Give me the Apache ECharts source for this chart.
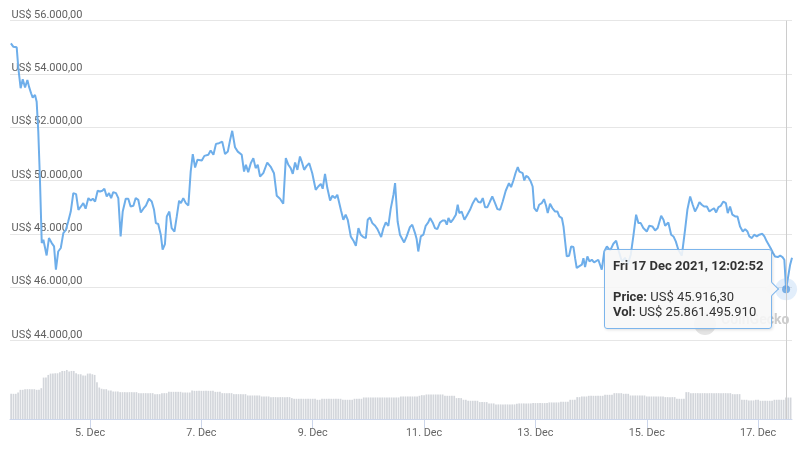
<!DOCTYPE html>
<html>
<head>
<meta charset="utf-8">
<script src="https://cdn.jsdelivr.net/npm/echarts@6/dist/echarts.min.js"></script>
<style>
html,body{margin:0;padding:0;background:#fff;}
#chart{width:800px;height:454px;}
</style>
</head>
<body>
<div id="chart"></div>
<script>
// hours since 3 Dec 2021 00:00 (UTC)
const hours = [13.9,14.9,16.4,17.1,18.1,19.0,20.0,21.0,21.7,22.6,
23.3,24.3,25.0,25.7,26.4,27.2,27.9,28.6,29.3,30.3,
31.5,32.5,33.3,34.3,35.4,36.5,37.6,38.6,39.7,40.8,
42.0,43.0,44.1,45.1,46.1,47.3,48.3,49.2,50.2,51.3,
52.3,53.3,54.2,55.2,56.2,57.1,58.0,59.2,60.2,61.2,
62.1,63.4,64.5,65.5,66.7,67.7,68.8,69.9,71.0,72.1,
73.4,74.6,75.6,76.4,77.4,78.5,79.3,80.3,81.1,82.2,
83.2,84.4,85.4,86.4,87.2,88.2,89.3,90.4,91.4,92.3,
93.3,94.3,96.2,97.3,99.0,100.0,101.2,102.3,103.6,105.0,
106.2,107.4,108.4,109.3,110.5,111.7,113.4,114.4,115.2,116.2,
117.3,118.4,119.4,120.3,121.3,122.7,124.4,126.0,127.3,128.5,
129.9,131.3,132.4,133.5,134.5,135.4,136.4,137.4,138.5,139.5,
140.3,141.4,142.5,143.8,145.3,146.4,147.5,148.3,149.3,150.3,
151.5,152.5,153.6,154.6,155.3,156.2,157.2,158.2,159.1,160.4,
161.5,162.6,163.7,164.7,165.8,166.9,167.7,168.7,169.7,170.9,
171.9,172.6,173.5,174.5,175.5,176.6,177.6,178.8,179.5,180.6,
181.6,183.4,184.5,185.9,186.9,188.1,188.8,189.5,190.6,191.7,
192.7,193.8,194.6,195.7,196.7,197.7,198.9,200.0,201.0,201.8,
202.5,203.5,204.6,205.7,206.5,207.2,208.2,209.4,210.4,211.8,
213.0,214.3,215.4,216.4,217.3,218.3,219.3,220.4,221.4,222.6,
223.6,224.8,225.9,227.2,228.6,229.5,230.5,231.5,232.4,233.1,
233.8,234.5,235.2,236.0,236.9,238.0,238.8,239.5,240.6,241.6,
242.7,243.7,244.6,245.3,246.3,247.3,248.5,249.5,250.3,251.4,
252.1,252.8,253.5,254.5,255.4,256.4,257.1,257.8,258.8,260.0,
260.7,261.4,262.4,263.3,264.3,265.3,267.1,268.6,269.7,270.8,
272.2,273.6,274.8,276.0,277.3,278.6,279.8,281.1,282.2,283.4,
284.4,285.4,286.5,288.0,289.1,290.4,291.6,292.7,294.2,295.2,
295.9,297.3,298.5,299.5,300.5,301.6,303.1,304.5,305.5,306.7,
307.8,308.8,309.8,310.7,311.7,312.7,313.9,315.0,316.0,317.0,
317.9,318.9,319.9,321.0,322.1,322.9,323.9,324.9,326.1,327.1,
328.2,329.4,330.4,331.4,332.2,333.3,334.3,335.4,336.5,337.8,
338.7,339.7,340.8,341.6,342.3,343.3,344.5,345.5,346.5,347.3,
348.0478,349.8,350.6];

// price in US$
const prices = [55150,55025,55000,54215,53465,53800,53490,53775,53525,53275,
53110,53215,52960,51840,50100,47650,47775,47710,47185,47840,
47650,47525,46650,47335,47465,48025,48150,48460,48835,49525,
49490,48900,49025,49150,48940,49340,49250,49315,49210,49615,
49585,49615,49690,49400,49525,49340,49565,49525,49340,47900,
48835,49315,49315,49025,49050,49340,49275,48800,48940,49060,
49315,49210,48900,48400,48365,47965,47400,47615,48650,48835,
48215,48085,48650,49240,49150,49340,49150,49060,50335,50990,
50485,50775,50750,50925,50965,51125,50965,51375,51400,51460,
50990,51085,51525,51865,51250,51085,50965,50335,50590,50315,
50650,50840,50465,50590,50150,50275,50675,50500,50275,49425,
49315,49125,50840,50590,50465,50250,50675,50400,50900,50650,
50400,50550,50650,50275,49650,49775,49875,49690,50250,49715,
49250,49425,49340,49465,49425,48875,48525,48715,48525,47900,
47750,47550,48215,47965,47875,47840,48525,48610,48400,48300,
48175,48190,47875,48215,48425,48300,48925,49465,49900,48460,
47965,47675,47900,48250,48340,48025,47800,47335,47900,47965,
48300,48425,48590,48425,48215,48175,48425,48500,48500,48340,
48590,48425,48550,48715,49090,48775,48835,48525,48675,48900,
49150,49340,49190,49175,49340,49000,49000,49210,49400,49150,
48925,48900,49210,49615,49900,49750,50000,50300,50500,50335,
50375,50275,50000,50175,50125,49960,49775,48965,48835,49090,
49150,49300,49050,48775,49125,48965,48835,48835,48650,48590,
48275,47710,47150,47175,47525,47500,47085,46715,46775,46840,
47085,46750,47150,46960,47025,46925,47025,46650,47335,47525,
47365,47625,47740,47325,46950,47100,46840,47215,47900,48715,
48400,48400,48215,48085,48300,48275,48125,48215,48675,48525,
48300,48425,47965,47900,47715,47400,47175,48150,48900,49400,
49090,48835,49000,49190,49090,49025,49025,48835,48900,48960,
48800,49000,49050,49210,49150,48775,49025,48715,48650,48650,
48275,48085,48175,48085,47900,47840,47965,47900,47965,48000,
47900,47715,47550,47425,47300,47150,47125,47175,47125,47025,
45916.3,46840,47100];

// hourly 24h volume, in billions of US$, first bar at hour 14
const volStartHour = 14;
const volumes = [30.4,30.4,30.4,32,35.2,35.2,36,36,36,36,
36,35.2,35.2,37.2,50,50,53.2,54.8,54.8,55.2,
55.2,56.4,58,58,59.2,57.2,58,58,55.2,54,
54,52.4,52.4,54.8,54.8,54,53.2,44.4,38,36.5,
36,36,34.4,34.4,33.2,33.2,33.2,32.4,32.4,32.4,
32.4,32.4,32.4,32.4,32.4,31.2,31.2,31.2,31.2,31.2,
31.2,31.2,30,30,30,31.2,31.2,31.2,32.8,32.8,
32.8,32.8,32.8,32.8,32,32,32,32,34.4,34,
34,34,34,34,34,34,34,34,32.8,32.8,
32.8,31.2,31.2,31.2,31.2,31.2,30,30,30,30,
30,30,28.4,28.4,28.4,28.4,28.4,28.4,27.2,27.2,
27.2,27.2,26.4,26.4,26.4,26.4,26.4,26.4,26.4,26.4,
26.4,25.2,24.4,24.4,24.4,24.4,24.4,24.4,24.4,24.4,
24.4,24.4,23.2,23.2,24.4,24.4,24.4,24.4,24.4,24.4,
24.4,24.4,24.4,23.2,23.2,23.2,23.2,23.2,24.4,24.4,
24.4,24.4,26,26,26,26,26,26,26,26,
26,26,26,26,26,26,26,26,27.2,27.2,
27.2,27.2,27.2,27.2,27.2,27.2,28,28.8,28.8,29.6,
29.6,29.6,29.6,29.6,29.6,29.6,29.6,28,28,28,
28,28,25.2,25.2,25.2,23.2,23.2,22,22,22,
22,22,20.4,20.4,20.4,20.4,18.8,18.8,18.8,17.6,
17.6,17.6,17.6,17.6,17.6,17.6,17.6,17.6,18.4,18.8,
18.8,18.8,18.8,18.8,18.8,19.2,19.2,19.2,19.2,19.2,
19.2,19.2,20,20,20,20,20,20.8,20.8,20.8,
20.8,23.2,23.2,23.2,26.4,26.4,27.2,27.2,27.2,28,
28,28,28,28,28,28,29.2,29.2,29.2,29.2,
31.2,31.2,31.2,31.2,30.4,30.4,30.4,28.4,28.4,28.4,
28.4,28.4,28.4,28.4,27.2,27.2,27.2,27.2,27.2,27.2,
27.2,27.2,26.4,26.4,26.4,26.4,26.4,24.4,24.4,24.4,
24.4,32.4,32.4,31.2,31.2,31.2,31.2,31.2,31.2,31.2,
31.2,31.2,31.2,31.2,31.2,31.2,31.2,31.2,31.2,31.2,
31.2,30,30,30,30,23.2,23.2,23.2,22.4,22.4,
22.4,23.2,23.2,22,22,22,22,22,22,23.2,
23.2,23.2,23.2,23.2,25.86149591,25.9,25.9];

const xTickHours = [48,96,144,192,240,288,336];
const xTickLabels = ['5. Dec','7. Dec','9. Dec','11. Dec','13. Dec','15. Dec','17. Dec'];
const priceMin = 44000, priceMax = 56000, priceStep = 2000;
const hourMin = 13.51, hourMax = 350.6;
const tipHour = 348.0478;

const baseUTC = Date.UTC(2021, 11, 3, 0, 0, 0);
const DAYS = ['Sun','Mon','Tue','Wed','Thu','Fri','Sat'];
const MONTHS = ['Jan','Feb','Mar','Apr','May','Jun','Jul','Aug','Sep','Oct','Nov','Dec'];

function groupDots(intStr){ return intStr.replace(/\B(?=(\d{3})+(?!\d))/g, '.'); }
function fmtPrice(v){
  const s = v.toFixed(2).split('.');
  return groupDots(s[0]) + ',' + s[1];
}
function pad(n){ return (n<10?'0':'')+n; }
function fmtTime(h){
  const d = new Date(baseUTC + h*3600000);
  return DAYS[d.getUTCDay()] + ' ' + d.getUTCDate() + ' ' + MONTHS[d.getUTCMonth()] + ' ' + d.getUTCFullYear() +
    ', ' + pad(d.getUTCHours()) + ':' + pad(d.getUTCMinutes()) + ':' + pad(d.getUTCSeconds());
}

const lineData = hours.map((h,i)=>[h, prices[i]]);
const volData = volumes.map((v,i)=>[volStartHour+i, v]);
const tipIndex = hours.indexOf(tipHour);
const tipPoint = [hours[tipIndex], prices[tipIndex]];

const chart = echarts.init(document.getElementById('chart'), null, {renderer:'canvas'});
const FONT = 'Roboto, "Noto Sans", sans-serif';

const axisPointerCfg = {
  show: true, type: 'line', value: tipHour, status: 'show', snap: false,
  triggerTooltip: false, label: {show: false},
  lineStyle: {color: '#cccccc', width: 1, type: 'solid'}
};

const arrowHtml = '<div style="position:absolute;right:-6px;top:50%;margin-top:-5px;width:9px;height:9px;' +
  'background:#f7f7f7;border-right:1px solid #7cb5ec;border-top:1px solid #7cb5ec;transform:rotate(45deg);"></div>';

chart.setOption({
  animation: false,
  backgroundColor: '#ffffff',
  grid: [
    {left: 10, right: 8, top: 20.7, height: 319.6},
    {left: 10, right: 8, top: 340.3, height: 78.7}
  ],
  xAxis: [
    {type:'value', gridIndex:0, min:hourMin, max:hourMax,
     axisLine:{show:false}, axisTick:{show:false}, axisLabel:{show:false}, splitLine:{show:false},
     axisPointer: axisPointerCfg},
    {type:'value', gridIndex:1, min:hourMin, max:hourMax,
     axisLine:{show:true, onZero:false, lineStyle:{color:'#ccd6eb', width:1}},
     axisTick:{show:true, length:9, lineStyle:{color:'#ccd6eb'}, customValues: xTickHours},
     axisLabel:{show:true, customValues: xTickHours, margin: 9, color:'#666666', fontSize: 10.8, fontFamily: FONT,
       formatter: function(v){ const k = xTickHours.indexOf(v); return k>=0 ? xTickLabels[k] : ''; }},
     splitLine:{show:false},
     axisPointer: axisPointerCfg}
  ],
  yAxis: [
    {type:'value', gridIndex:0, min:priceMin, max:priceMax, interval:priceStep,
     axisLine:{show:false}, axisTick:{show:false},
     splitLine:{show:true, lineStyle:{color:'#e6e6e6', width:1}},
     axisLabel:{inside:true, margin:1.5, color:'#606060', fontSize:11, fontFamily: FONT,
       verticalAlign:'bottom', lineHeight: 11,
       formatter: function(v){ return 'US$ ' + fmtPrice(v); }}},
    {type:'value', gridIndex:1, min:0, max:95,
     axisLine:{show:false}, axisTick:{show:false}, axisLabel:{show:false}, splitLine:{show:false}}
  ],
  axisPointer: {triggerOn: 'none'},
  tooltip: {
    trigger: 'item',
    triggerOn: 'none',
    alwaysShowContent: true,
    position: 'left',
    transitionDuration: 0,
    backgroundColor: 'rgba(247,247,247,0.88)',
    borderColor: '#7cb5ec',
    borderWidth: 1,
    padding: [8, 8, 9, 8],
    textStyle: {color:'#333333', fontSize: 13, fontFamily: FONT},
    extraCssText: 'border-radius:3px;box-shadow:1px 1px 3px rgba(0,0,0,0.12);overflow:visible;',
    formatter: function(p){
      const h = p.data[0], price = p.data[1];
      const vol = volumes[Math.round(h) - volStartHour];
      const volStr = groupDots(String(Math.round(vol * 1e9)));
      return '<div style="font-weight:bold;line-height:15px;">' + fmtTime(h) + '</div>' +
        '<div style="height:16px"></div>' +
        '<div style="line-height:15px;"><b>Price:</b> US$ ' + fmtPrice(price) + '</div>' +
        '<div style="line-height:15px;"><b>Vol:</b> US$ ' + volStr + '</div>' + arrowHtml;
    }
  },
  graphic: [
    {type:'circle', z:0, shape:{cx:705, cy:324, r:11}, style:{fill:'#e4e4e4'}, silent:true},
    {type:'text', z:0, x:721, y:313, style:{text:'CoinGecko', fill:'#cdcdcd', font:'bold 14px Roboto'}, silent:true}
  ],
  series: [
    {type:'bar', xAxisIndex:1, yAxisIndex:1, data: volData, barWidth: 1.7,
     itemStyle:{color:'#d3d6db'}, silent:true, tooltip:{show:false}},
    {type:'line', xAxisIndex:0, yAxisIndex:0, data: lineData, showSymbol:false, symbol:'none',
     lineStyle:{color:'#6eaeea', width:2}, silent:true, tooltip:{show:false}, z:3},
    {type:'scatter', xAxisIndex:0, yAxisIndex:0, data:[tipPoint], symbolSize:22,
     itemStyle:{color:'rgba(124,181,236,0.28)'}, silent:true, tooltip:{show:false}, z:4},
    {type:'scatter', xAxisIndex:0, yAxisIndex:0, data:[tipPoint], symbolSize:8,
     itemStyle:{color:'#5f9fe0'}, emphasis:{disabled:true, scale:false}, z:5}
  ]
});

chart.dispatchAction({type:'showTip', seriesIndex:3, dataIndex:0});
</script>
</body>
</html>
